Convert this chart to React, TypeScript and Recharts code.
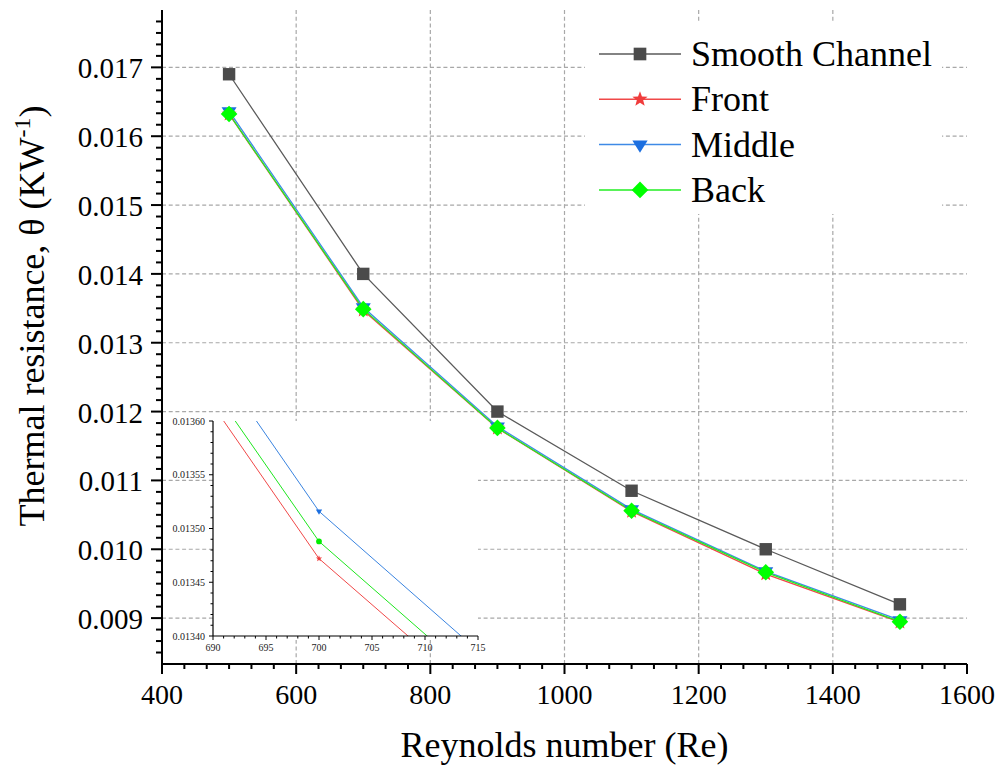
import React from 'react';
import { LineChart, Line, XAxis, YAxis, CartesianGrid, Legend, Label } from 'recharts';

// Reynolds numbers and thermal resistance (K/W) of each channel configuration
const reynolds = [500, 700, 900, 1100, 1300, 1500];
const smoothChannel = [0.0169, 0.014, 0.012, 0.01085, 0.01, 0.0092];
const frontRib = [0.01632, 0.013472, 0.011758, 0.01055, 0.00964, 0.00894];
const middleRib = [0.016364, 0.013516, 0.011785, 0.01058, 0.00968, 0.00897];
const backRib = [0.016323, 0.013488, 0.011763, 0.01056, 0.009665, 0.008948];

// Axis tick labels
const xTicks = [400, 600, 800, 1000, 1200, 1400, 1600];
const yTicks = [0.009, 0.01, 0.011, 0.012, 0.013, 0.014, 0.015, 0.016, 0.017];
const insetXTicks = [690, 695, 700, 705, 710, 715];
const insetYTicks = [0.0134, 0.01345, 0.0135, 0.01355, 0.0136];

const X_DOMAIN: [number, number] = [400, 1600];
const Y_DOMAIN: [number, number] = [0.0083333, 0.0178333];

const data = reynolds.map((re, i) => ({
  re,
  smooth: smoothChannel[i],
  front: frontRib[i],
  middle: middleRib[i],
  back: backRib[i],
}));

const FONT = '"Liberation Serif", "Times New Roman", serif';

type MarkerKind = 'square' | 'star' | 'triangle' | 'diamond' | 'circle';

const series = [
  { key: 'smooth', name: 'Smooth Channel', line: '#5a5a5a', fill: '#4b4b4b', marker: 'square' as MarkerKind },
  { key: 'front', name: 'Front', line: '#f04848', fill: '#f03c3c', marker: 'star' as MarkerKind },
  { key: 'middle', name: 'Middle', line: '#3f8ae6', fill: '#1c6fe0', marker: 'triangle' as MarkerKind },
  { key: 'back', name: 'Back', line: '#22ee22', fill: '#00ff00', marker: 'diamond' as MarkerKind },
];

// Tick list = majors plus evenly spaced minors inside the domain
function withMinor(major: number[], parts: number, lo: number, hi: number): number[] {
  const step = (major[1] - major[0]) / parts;
  const eps = step * 0.02;
  const out: number[] = [];
  const kMin = Math.floor((lo - major[0]) / step) - 1;
  const kMax = Math.ceil((hi - major[0]) / step) + 1;
  for (let k = kMin; k <= kMax; k++) {
    const v = Number((major[0] + k * step).toPrecision(12));
    const isMaj = major.some((m) => Math.abs(m - v) < eps);
    if (isMaj || (v > lo + eps && v < hi - eps)) out.push(v);
  }
  return out;
}

const near = (list: number[], v: number, tol: number) => list.some((m) => Math.abs(m - v) < tol);

const xTickAll = withMinor(xTicks, 6, X_DOMAIN[0], X_DOMAIN[1]);
const yTickAll = withMinor(yTicks, 6, Y_DOMAIN[0], Y_DOMAIN[1]);
const insetXTickAll = withMinor(insetXTicks, 5, 690, 715);
const insetYTickAll = withMinor(insetYTicks, 5, 0.0134, 0.0136);

function markerShape(kind: MarkerKind, cx: number, cy: number, fill: string, s: number, key?: string) {
  switch (kind) {
    case 'square': {
      const h = 6.2 * s;
      return <rect key={key} x={cx - h} y={cy - h} width={2 * h} height={2 * h} fill={fill} />;
    }
    case 'diamond': {
      const h = 8.3 * s;
      return <path key={key} d={`M${cx},${cy - h}L${cx + h},${cy}L${cx},${cy + h}L${cx - h},${cy}Z`} fill={fill} />;
    }
    case 'triangle': {
      const w = 7.5 * s;
      const hh = 12 * s;
      return (
        <path
          key={key}
          d={`M${cx - w},${cy - hh / 3}L${cx + w},${cy - hh / 3}L${cx},${cy + (2 * hh) / 3}Z`}
          fill={fill}
        />
      );
    }
    case 'circle':
      return <circle key={key} cx={cx} cy={cy} r={3 * s} fill={fill} />;
    case 'star':
    default: {
      const R = 7.8 * s;
      const r = R * 0.42;
      let d = '';
      for (let i = 0; i < 10; i++) {
        const rad = i % 2 === 0 ? R : r;
        const a = -Math.PI / 2 + (i * Math.PI) / 5;
        d += `${i === 0 ? 'M' : 'L'}${cx + rad * Math.cos(a)},${cy + rad * Math.sin(a)}`;
      }
      return <path key={key} d={d + 'Z'} fill={fill} />;
    }
  }
}

function makeDot(kind: MarkerKind, fill: string, s: number) {
  return (p: any) => {
    if (p.cx == null || p.cy == null) return <g key={`e${p.index}`} />;
    return markerShape(kind, p.cx, p.cy, fill, s, `m${p.index}`);
  };
}

function MainXTick(props: any) {
  const { x, y, payload } = props;
  const major = near(xTicks, payload.value, 1);
  return (
    <g>
      <line x1={x} x2={x} y1={y} y2={y + (major ? 10 : 5)} stroke="#000" strokeWidth={2} />
      {major && (
        <text x={x} y={y + 40} textAnchor="middle" fontFamily={FONT} fontSize={28} fill="#000">
          {payload.value}
        </text>
      )}
    </g>
  );
}

function MainYTick(props: any) {
  const { x, y, payload } = props;
  const major = near(yTicks, payload.value, 0.00002);
  return (
    <g>
      <line x1={x} x2={x - (major ? 11 : 6)} y1={y} y2={y} stroke="#000" strokeWidth={2} />
      {major && (
        <text x={x - 19} y={y + 11} textAnchor="end" fontFamily={FONT} fontSize={29} fill="#000">
          {payload.value.toFixed(3)}
        </text>
      )}
    </g>
  );
}

function InsetXTick(props: any) {
  const { x, y, payload } = props;
  const major = near(insetXTicks, payload.value, 0.1);
  return (
    <g>
      <line x1={x} x2={x} y1={y} y2={y + (major ? 4 : 2.5)} stroke="#000" strokeWidth={1} />
      {major && (
        <text x={x} y={y + 15} textAnchor="middle" fontFamily={FONT} fontSize={10} fill="#222">
          {payload.value}
        </text>
      )}
    </g>
  );
}

function InsetYTick(props: any) {
  const { x, y, payload } = props;
  const major = near(insetYTicks, payload.value, 0.000002);
  return (
    <g>
      <line x1={x} x2={x - (major ? 4 : 2.5)} y1={y} y2={y} stroke="#000" strokeWidth={1} />
      {major && (
        <text x={x - 8} y={y + 3.5} textAnchor="end" fontFamily={FONT} fontSize={10} fill="#222">
          {payload.value.toFixed(5)}
        </text>
      )}
    </g>
  );
}

function XTitle(props: any) {
  const vb = props.viewBox || {};
  return (
    <text x={vb.x + vb.width / 2} y={vb.y + 93} textAnchor="middle" fontFamily={FONT} fontSize={36} fill="#000">
      Reynolds number (Re)
    </text>
  );
}

function YTitle() {
  const cx = 36;
  const cy = 308;
  return (
    <text
      x={cx}
      y={cy}
      transform={`rotate(-90, ${cx}, ${cy})`}
      textAnchor="middle"
      fontFamily={FONT}
      fontSize={36}
      fill="#000"
    >
      <tspan>Thermal resistance, θ (KW</tspan>
      <tspan fontSize={24} dy={-14}>-1</tspan>
      <tspan dy={14}>)</tspan>
    </text>
  );
}

function LegendBox() {
  return (
    <div style={{ width: 357, height: 192, background: '#fff' }}>
      <svg width={357} height={192} style={{ display: 'block', overflow: 'visible' }}>
        {series.map((s, i) => {
          const cy = 32 + i * 45.3;
          return (
            <g key={s.key}>
              <line x1={14} x2={96} y1={cy} y2={cy} stroke={s.line} strokeWidth={1.5} />
              {markerShape(s.marker, 55, cy, s.fill, s.marker === 'diamond' ? 1 : 1.02)}
              <text x={106} y={cy + 12} fontFamily={FONT} fontSize={36} fill="#000">
                {s.name}
              </text>
            </g>
          );
        })}
      </svg>
    </div>
  );
}

const insetSeries = [
  { key: 'front', line: '#f04848', fill: '#f03c3c', marker: 'star' as MarkerKind, s: 0.42 },
  { key: 'back', line: '#1ee61e', fill: '#00ee00', marker: 'circle' as MarkerKind, s: 0.95 },
  { key: 'middle', line: '#3a84e0', fill: '#1c6fe0', marker: 'triangle' as MarkerKind, s: 0.42 },
];

export default function App() {
  return (
    <div style={{ position: 'relative', width: 995, height: 765 }}>
      <LineChart width={995} height={765} data={data} margin={{ top: 2, right: 36, bottom: 49, left: 0 }}>
        <CartesianGrid
          stroke="#a8a8a8"
          strokeWidth={1.2}
          strokeDasharray="4 2.7"
          horizontalValues={yTicks}
          verticalValues={xTicks.slice(1, -1)}
        />
        <XAxis
          dataKey="re"
          type="number"
          domain={X_DOMAIN}
          ticks={xTickAll}
          interval={0}
          tickSize={0}
          tickMargin={0}
          tickLine={false}
          tick={<MainXTick />}
          axisLine={{ stroke: '#000', strokeWidth: 2 }}
          height={60}
        >
          <Label content={<XTitle />} />
        </XAxis>
        <XAxis
          xAxisId="top"
          orientation="top"
          type="number"
          domain={X_DOMAIN}
          tick={false}
          tickLine={false}
          axisLine={{ stroke: '#000', strokeWidth: 2 }}
          height={0}
        />
        <YAxis
          type="number"
          domain={Y_DOMAIN}
          ticks={yTickAll}
          interval={0}
          tickSize={0}
          tickMargin={0}
          tickLine={false}
          tick={<MainYTick />}
          axisLine={{ stroke: '#000', strokeWidth: 2 }}
          width={154}
        >
          <Label content={<YTitle />} />
        </YAxis>
        <YAxis
          yAxisId="right"
          orientation="right"
          type="number"
          domain={Y_DOMAIN}
          tick={false}
          tickLine={false}
          axisLine={{ stroke: '#000', strokeWidth: 2 }}
          width={0}
        />
        {series.map((s) => (
          <Line
            key={s.key}
            dataKey={s.key}
            name={s.name}
            type="linear"
            stroke={s.line}
            strokeWidth={1.3}
            dot={makeDot(s.marker, s.fill, 1)}
            activeDot={false}
            isAnimationActive={false}
          />
        ))}
        <Legend
          layout="vertical"
          align="center"
          verticalAlign="middle"
          content={<LegendBox />}
          wrapperStyle={{ left: 577, top: 14, width: 357, height: 192 }}
        />
      </LineChart>

      {/* zoomed view around Re = 700 */}
      <div style={{ position: 'absolute', left: 205, top: 413, width: 265, height: 219, background: '#fff' }} />
      <div style={{ position: 'absolute', left: 150, top: 403 }}>
        <LineChart width={330} height={250} data={data} margin={{ top: 10, right: 10, bottom: 5, left: 0 }}>
          <XAxis
            dataKey="re"
            type="number"
            domain={[690, 715]}
            allowDataOverflow
            ticks={insetXTickAll}
            interval={0}
            tickSize={0}
            tickMargin={0}
            tickLine={false}
            tick={<InsetXTick />}
            axisLine={{ stroke: '#000', strokeWidth: 1.2 }}
            height={20}
          />
          <YAxis
            type="number"
            domain={[0.0134, 0.0136]}
            allowDataOverflow
            ticks={insetYTickAll}
            interval={0}
            tickSize={0}
            tickMargin={0}
            tickLine={false}
            tick={<InsetYTick />}
            axisLine={{ stroke: '#000', strokeWidth: 1.2 }}
            width={55}
          />
          {insetSeries.map((s) => (
            <Line
              key={s.key}
              dataKey={s.key}
              type="linear"
              stroke={s.line}
              strokeWidth={1}
              dot={makeDot(s.marker, s.fill, s.s)}
              activeDot={false}
              isAnimationActive={false}
            />
          ))}
        </LineChart>
      </div>
    </div>
  );
}
